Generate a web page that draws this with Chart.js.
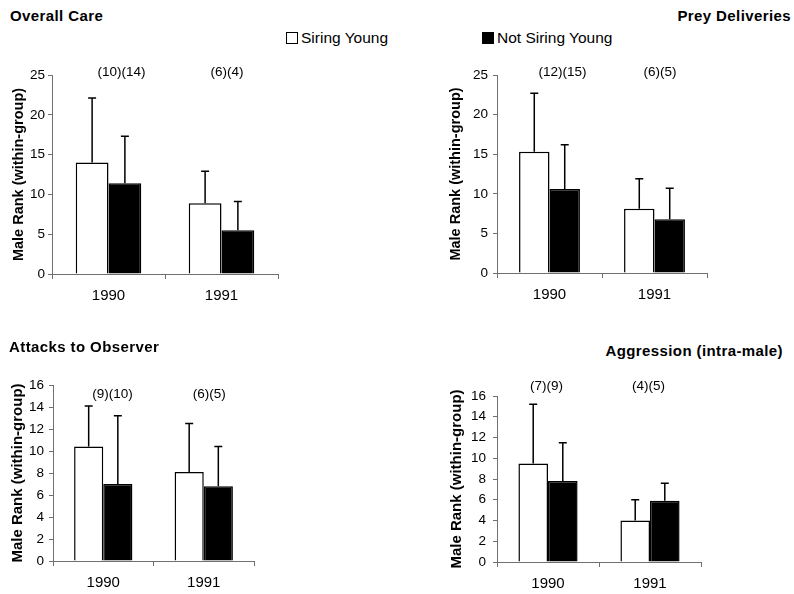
<!DOCTYPE html>
<html lang="en">
  <head>
    <meta charset="UTF-8" />
    <title>Male rank by paternity</title>
    <script src="https://cdn.jsdelivr.net/npm/chart.js@4.4.0/dist/chart.umd.min.js"></script>
    <style>
      body { margin: 0; background: #fff; }
      #page { position: relative; width: 794px; height: 594px; overflow: hidden;
        font-family: "Liberation Sans", Arial, sans-serif; color: #000; }
      #page canvas { position: absolute; }
      .ttl { position: absolute; font-weight: bold; font-size: 15px; line-height: 18px;
        letter-spacing: 0.4px; white-space: nowrap; }
      .leg { position: absolute; font-size: 15.5px; line-height: 18px; white-space: nowrap; }
      .sw { display: inline-block; width: 10px; height: 10px; border: 1.5px solid #000;
        vertical-align: -1px; margin-right: 3px; }
    </style>
  </head>
  <body>
    <div id="page"></div>
    <script>
      const years = ["1990", "1991"];
      const seriesNames = ["Siring Young", "Not Siring Young"];

      // Overall Care
      const careSiring = [14.0, 8.9];
      const careSiringSd = [8.1, 4.0];
      const careNot = [11.4, 5.5];
      const careNotSd = [5.9, 3.6];
      const careN = ["(10)(14)", "(6)(4)"];

      // Prey Deliveries
      const preySiring = [15.3, 8.1];
      const preySiringSd = [7.4, 3.8];
      const preyNot = [10.6, 6.8];
      const preyNotSd = [5.6, 3.9];
      const preyN = ["(12)(15)", "(6)(5)"];

      // Attacks to Observer
      const attackSiring = [10.4, 8.1];
      const attackSiringSd = [3.7, 4.4];
      const attackNot = [7.0, 6.8];
      const attackNotSd = [6.2, 3.6];
      const attackN = ["(9)(10)", "(6)(5)"];

      // Aggression (intra-male)
      const aggrSiring = [9.5, 4.0];
      const aggrSiringSd = [5.7, 2.0];
      const aggrNot = [7.8, 5.9];
      const aggrNotSd = [3.7, 1.7];
      const aggrN = ["(7)(9)", "(4)(5)"];

      const page = document.getElementById("page");
      const axisGrey = "#707070";
      const FONT = "'Liberation Sans', Arial, sans-serif";

      // upper error bars with a small cap
      const errorBars = {
        id: "errorBars",
        afterDatasetsDraw(chart) {
          const ctx = chart.ctx;
          const y = chart.scales.y;
          ctx.save();
          ctx.strokeStyle = "#000";
          ctx.lineWidth = 1.5;
          chart.data.datasets.forEach((ds, i) => {
            chart.getDatasetMeta(i).data.forEach((bar, j) => {
              const top = y.getPixelForValue(ds.data[j] + ds.errors[j]);
              ctx.beginPath();
              ctx.moveTo(bar.x, bar.y);
              ctx.lineTo(bar.x, top);
              ctx.moveTo(bar.x - 4, top);
              ctx.lineTo(bar.x + 4, top);
              ctx.stroke();
            });
          });
          ctx.restore();
        },
      };

      // sample sizes above each year
      const sampleSizes = {
        id: "sampleSizes",
        afterDatasetsDraw(chart, args, opts) {
          const ctx = chart.ctx;
          ctx.save();
          ctx.font = "13.5px " + FONT;
          ctx.fillStyle = "#000";
          ctx.textAlign = "left";
          ctx.textBaseline = "middle";
          opts.labels.forEach((t, j) => {
            const x = chart.scales.x.getPixelForValue(j) + opts.dx;
            ctx.fillText(t, x, chart.scales.y.getPixelForValue(opts.at));
          });
          ctx.restore();
        },
      };

      function addText(cls, text, css) {
        const d = document.createElement("div");
        d.className = cls;
        d.textContent = text;
        Object.assign(d.style, css);
        page.appendChild(d);
        return d;
      }

      function makePanel(p) {
        const c = document.createElement("canvas");
        c.width = p.box.width;
        c.height = p.box.height;
        c.style.left = p.box.left + "px";
        c.style.top = p.box.top + "px";
        page.appendChild(c);

        const yWidth = p.area.l - p.box.left;
        const xHeight = p.box.top + p.box.height - p.area.b;

        new Chart(c, {
          type: "bar",
          data: {
            labels: years,
            datasets: [
              {
                label: seriesNames[0],
                data: p.siring,
                errors: p.siringSd,
                backgroundColor: "#fff",
                borderColor: "#000",
                borderWidth: 1.5,
              },
              {
                label: seriesNames[1],
                data: p.not,
                errors: p.notSd,
                backgroundColor: "#000",
                borderColor: "#000",
                borderWidth: 1.5,
              },
            ],
          },
          options: {
            responsive: false,
            animation: false,
            barPercentage: 1,
            categoryPercentage: 0.58,
            layout: {
              padding: {
                top: p.area.t - p.box.top,
                right: p.box.left + p.box.width - p.area.r,
                left: 0,
                bottom: 0,
              },
            },
            plugins: {
              legend: { display: false },
              tooltip: { enabled: false },
              sampleSizes: { labels: p.counts, dx: p.countDx, at: p.countAt },
            },
            scales: {
              x: {
                grid: { drawOnChartArea: false, tickLength: 5, offset: true, color: axisGrey },
                border: { color: axisGrey, width: 1 },
                ticks: { color: "#000", font: { family: FONT, size: 15 }, padding: 8 },
                afterFit: (s) => { s.height = xHeight; },
              },
              y: {
                min: 0,
                max: p.max,
                ticks: {
                  stepSize: p.step,
                  color: "#000",
                  font: { family: FONT, size: 13.5 },
                  padding: p.tickPad,
                },
                grid: { drawOnChartArea: false, tickLength: 4, color: axisGrey },
                border: { color: axisGrey, width: 1 },
                title: {
                  display: true,
                  text: "Male Rank (within-group)",
                  color: "#000",
                  font: { family: FONT, size: p.titleSize, weight: "bold" },
                  padding: { top: p.titlePad, bottom: 0 },
                },
                afterFit: (s) => { s.width = yWidth; },
              },
            },
          },
          plugins: [errorBars, sampleSizes],
        });
      }

      makePanel({
        box: { left: 4, top: 50, width: 300, height: 260 },
        area: { l: 52, t: 75, r: 278, b: 274 },
        max: 25, step: 5, tickPad: 3, titleSize: 14.5, titlePad: 6,
        siring: careSiring, siringSd: careSiringSd, not: careNot, notSd: careNotSd,
        counts: careN, countDx: -11, countAt: 25.3,
      });
      makePanel({
        box: { left: 440, top: 50, width: 290, height: 260 },
        area: { l: 497, t: 75, r: 707, b: 273 },
        max: 25, step: 5, tickPad: 5, titleSize: 14.5, titlePad: 7,
        siring: preySiring, siringSd: preySiringSd, not: preyNot, notSd: preyNotSd,
        counts: preyN, countDx: -11, countAt: 25.4,
      });
      makePanel({
        box: { left: 2, top: 350, width: 280, height: 244 },
        area: { l: 53, t: 385, r: 254, b: 561 },
        max: 16, step: 2, tickPad: 5, titleSize: 15, titlePad: 7,
        siring: attackSiring, siringSd: attackSiringSd, not: attackNot, notSd: attackNotSd,
        counts: attackN, countDx: -11, countAt: 15.2,
      });
      makePanel({
        box: { left: 440, top: 360, width: 280, height: 234 },
        area: { l: 497, t: 396, r: 701, b: 562 },
        max: 16, step: 2, tickPad: 7, titleSize: 15, titlePad: 8,
        siring: aggrSiring, siringSd: aggrSiringSd, not: aggrNot, notSd: aggrNotSd,
        counts: aggrN, countDx: -18, countAt: 16.95,
      });

      // panel titles
      addText("ttl", "Overall Care", { left: "10px", top: "7px" });
      addText("ttl", "Prey Deliveries", { right: "3px", top: "7px" });
      addText("ttl", "Attacks to Observer", { left: "9px", top: "338px" });
      addText("ttl", "Aggression (intra-male)", { right: "11px", top: "342px" });

      // shared legend
      const legendAt = [{ left: "286px", top: "29px" }, { left: "482px", top: "29px" }];
      const legendFill = ["#fff", "#000"];
      seriesNames.forEach((name, i) => {
        const d = addText("leg", name, legendAt[i]);
        const sw = document.createElement("span");
        sw.className = "sw";
        sw.style.background = legendFill[i];
        d.prepend(sw);
      });
    </script>
  </body>
</html>
